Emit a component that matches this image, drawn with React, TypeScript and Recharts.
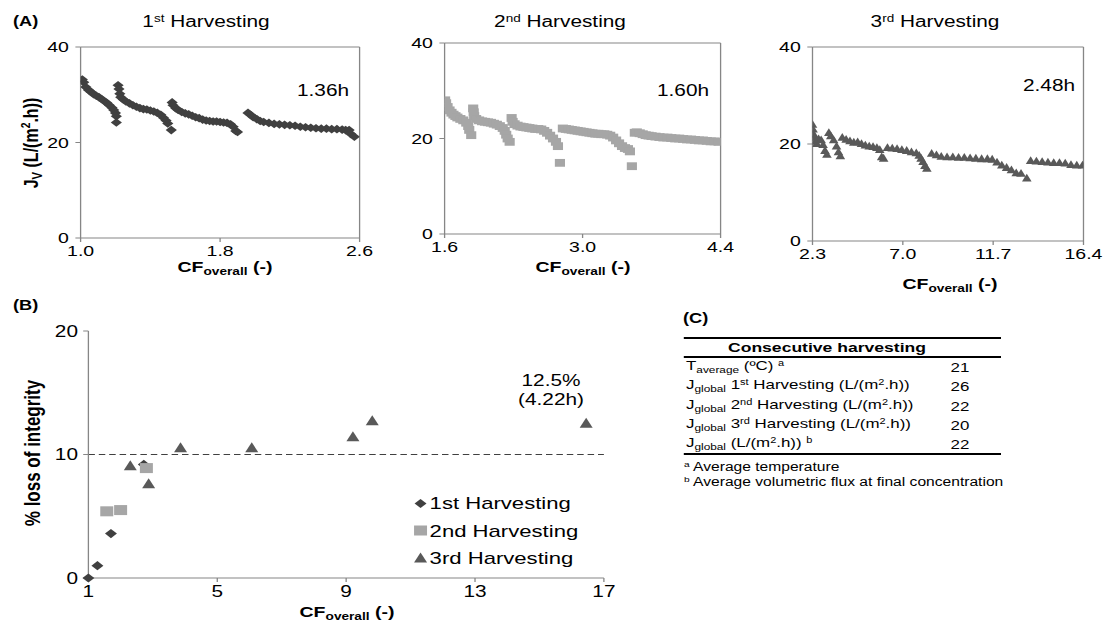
import React from 'react'
import { ScatterChart, Scatter, XAxis, YAxis, ReferenceLine } from 'recharts'

const FONT = '"Liberation Sans", Arial, Helvetica, sans-serif'
const AXIS_GREY = '#868686'
const DARK = '#404040'
const LIGHT = '#a6a6a6'
const MID = '#595959'

// the whole figure is drawn in a narrower frame and stretched horizontally
const K = 1.3
const sx = (v: number) => v / K

// (A) permeate flux Jv vs CF_overall, one series per harvesting cycle: [CF, Jv]
const harvest1Flux = [
  [1.01, 33.2], [1.018, 32.6], [1.03, 31.6], [1.045, 31.0], [1.06, 30.6], [1.075, 30.1], [1.09, 29.8],
  [1.105, 29.5], [1.12, 29.1], [1.135, 28.7], [1.15, 28.3], [1.165, 27.8], [1.18, 27.3], [1.19, 26.8],
  [1.2, 26.2], [1.205, 25.5], [1.205, 24.2],
  [1.215, 32.0], [1.22, 31.2], [1.225, 30.2], [1.23, 29.5], [1.245, 29.0], [1.26, 28.6], [1.28, 28.2],
  [1.3, 27.8], [1.32, 27.5], [1.34, 27.2], [1.36, 27.0], [1.38, 26.9], [1.4, 26.7], [1.42, 26.5],
  [1.44, 26.2], [1.46, 25.8], [1.475, 25.2], [1.49, 24.6], [1.5, 24.0], [1.52, 22.6],
  [1.525, 28.4], [1.53, 27.8], [1.545, 27.2], [1.56, 26.8], [1.58, 26.4], [1.6, 26.1], [1.62, 25.9],
  [1.64, 25.6], [1.66, 25.3], [1.68, 25.1], [1.7, 24.8], [1.72, 24.6], [1.74, 24.5], [1.76, 24.4],
  [1.78, 24.4], [1.8, 24.3], [1.82, 24.2], [1.84, 24.1], [1.86, 23.8], [1.875, 23.3], [1.89, 22.4],
  [1.9, 22.2],
  [1.96, 26.2], [1.975, 25.8], [1.99, 25.3], [2.01, 24.9], [2.03, 24.5], [2.05, 24.3], [2.08, 24.1],
  [2.11, 23.9], [2.14, 23.8], [2.17, 23.7], [2.2, 23.6], [2.23, 23.5], [2.26, 23.3], [2.29, 23.2],
  [2.32, 23.1], [2.35, 23.0], [2.38, 22.9], [2.41, 22.9], [2.44, 22.8], [2.47, 22.8], [2.5, 22.7],
  [2.52, 22.6], [2.54, 22.6], [2.55, 21.8], [2.57, 21.2],
]

const harvest2Flux = [
  [1.605, 28.0], [1.615, 27.4], [1.63, 26.6], [1.65, 25.9], [1.67, 25.4], [1.69, 25.0], [1.71, 24.7],
  [1.73, 24.4], [1.76, 24.1], [1.79, 23.8], [1.82, 23.3], [1.84, 22.6], [1.85, 21.8], [1.87, 20.7],
  [1.89, 26.3], [1.895, 25.5], [1.9, 24.7], [1.92, 24.1], [1.95, 23.8], [1.98, 23.6], [2.01, 23.5],
  [2.04, 23.4], [2.07, 23.3], [2.1, 23.1], [2.13, 22.9], [2.16, 22.6], [2.19, 22.2], [2.21, 21.6],
  [2.225, 20.8], [2.24, 20.0], [2.26, 19.3],
  [2.28, 24.3], [2.29, 23.5], [2.31, 23.0], [2.34, 22.7], [2.37, 22.5], [2.4, 22.4], [2.43, 22.3],
  [2.46, 22.2], [2.49, 22.1], [2.52, 22.0], [2.55, 22.0], [2.58, 21.9], [2.61, 21.6], [2.64, 21.2],
  [2.67, 20.6], [2.7, 20.0], [2.73, 19.3], [2.75, 18.4], [2.77, 14.9],
  [2.8, 22.1], [2.83, 22.0], [2.86, 21.9], [2.89, 21.8], [2.92, 21.7], [2.95, 21.6], [2.98, 21.5],
  [3.01, 21.4], [3.04, 21.3], [3.07, 21.2], [3.1, 21.1], [3.13, 21.0], [3.16, 21.0], [3.19, 20.9],
  [3.22, 20.9], [3.25, 20.8], [3.28, 20.6], [3.31, 20.2], [3.34, 19.6], [3.37, 19.0], [3.4, 18.4],
  [3.43, 18.0], [3.46, 17.8], [3.48, 17.3], [3.5, 14.2],
  [3.53, 21.2], [3.55, 21.3], [3.58, 21.1], [3.61, 20.9], [3.64, 20.7], [3.67, 20.6], [3.7, 20.5],
  [3.74, 20.4], [3.78, 20.3], [3.82, 20.2], [3.86, 20.2], [3.9, 20.1], [3.94, 20.0], [3.98, 20.0],
  [4.02, 19.9], [4.06, 19.8], [4.1, 19.8], [4.14, 19.7], [4.18, 19.6], [4.22, 19.6], [4.26, 19.5],
  [4.3, 19.4], [4.34, 19.4], [4.38, 19.3],
]

const harvest3Flux = [
  [2.3, 24.0], [2.33, 23.0], [2.36, 22.0], [2.4, 21.3], [2.45, 20.5], [2.52, 20.0], [2.62, 21.0],
  [2.75, 20.8], [2.85, 19.8], [2.95, 18.6], [3.05, 17.8], [3.15, 22.3], [3.25, 21.6], [3.4, 20.8],
  [3.55, 19.5], [3.65, 18.3], [3.75, 17.5], [3.85, 21.3], [4.05, 20.9], [4.25, 20.6], [4.45, 20.3],
  [4.65, 20.4], [4.85, 20.0], [5.05, 19.7], [5.25, 19.5], [5.45, 19.4], [5.65, 19.2], [5.8, 18.8],
  [5.9, 17.3], [6.0, 17.0],
  [6.2, 19.2], [6.45, 19.1], [6.7, 19.0], [6.95, 18.8], [7.2, 18.6], [7.45, 18.3], [7.7, 18.1],
  [7.85, 17.6], [7.95, 17.0], [8.05, 16.3], [8.15, 15.5], [8.25, 14.9],
  [8.5, 18.0], [8.75, 17.7], [9.0, 17.4], [9.3, 17.3], [9.6, 17.3], [9.9, 17.2], [10.2, 17.2],
  [10.5, 17.1], [10.8, 17.0], [11.1, 16.9], [11.4, 16.9], [11.65, 16.8], [11.9, 16.2], [12.15, 15.6],
  [12.4, 15.1], [12.65, 14.6], [12.9, 14.0], [13.15, 13.9], [13.45, 12.9],
  [13.65, 16.5], [13.95, 16.4], [14.25, 16.3], [14.55, 16.2], [14.85, 16.1], [15.15, 16.1],
  [15.45, 16.0], [15.75, 15.7], [16.05, 15.6], [16.35, 15.6],
]

// (B) % loss of integrity vs CF_overall: [CF, %]
const harvest1Loss = [[1.0, 0.0], [1.28, 1.0], [1.7, 3.6], [2.72, 9.2]]
const harvest2Loss = [[1.57, 5.4], [2.0, 5.5], [2.8, 8.9]]
const harvest3Loss = [[2.3, 9.05], [2.87, 7.6], [3.86, 10.5], [6.07, 10.5], [9.21, 11.4], [9.81, 12.7], [16.45, 12.5]]

// (C) table rows
const tableValues = [21, 26, 22, 20, 22]

const pts = (a: number[][]) => a.map(([x, y]) => ({ x, y }))

const diamond = (r: number, fill: string) => (p: any) => (
  <path d={`M${p.cx},${p.cy - r}L${p.cx + r},${p.cy}L${p.cx},${p.cy + r}L${p.cx - r},${p.cy}Z`} fill={fill} />
)
const square = (r: number, fill: string) => (p: any) => (
  <rect x={p.cx - r} y={p.cy - r} width={2 * r} height={2 * r} fill={fill} />
)
const triangle = (w: number, h: number, fill: string) => (p: any) => (
  <path d={`M${p.cx},${p.cy - h * 0.6}L${p.cx + w},${p.cy + h * 0.4}L${p.cx - w},${p.cy + h * 0.4}Z`} fill={fill} />
)

// absolute placement, x given in stretched (page) pixels
const abs = (left: number, top: number, extra: React.CSSProperties = {}): React.CSSProperties => ({
  position: 'absolute', left: sx(left), top, fontFamily: FONT, color: '#000', whiteSpace: 'nowrap', lineHeight: 1, ...extra,
})

const sub: React.CSSProperties = { fontSize: '0.7em', verticalAlign: '-0.3em' }
const sup: React.CSSProperties = { fontSize: '0.65em', verticalAlign: '0.55em' }

function CFLabel({ cx, cy }: { cx: number; cy: number }) {
  return (
    <div style={abs(cx, cy, { transform: 'translate(-50%, -50%)', fontWeight: 'bold', fontSize: 15 })}>
      CF<span style={sub}>overall</span> (-)
    </div>
  )
}

const tickStyle = (size: number) => ({ fill: '#000', fontSize: size, fontFamily: FONT })

function FluxPanel({ box, xDomain, xTicks, data, shape }: any) {
  const [x0, y0, x1, y1] = [sx(box[0]), box[1], sx(box[2]), box[3]]
  const yw = 35
  const xh = 30
  const m = 12
  const mr = 25
  return (
    <div style={{ position: 'absolute', left: x0 - yw, top: y0 - m }}>
      <ScatterChart width={x1 - x0 + yw + mr} height={y1 - y0 + m + xh} margin={{ top: m, right: mr, bottom: 0, left: 0 }}>
        <XAxis
          type="number" dataKey="x" domain={xDomain} ticks={xTicks} interval={0} allowDataOverflow
          tickFormatter={(v: number) => v.toFixed(1)} height={xh} stroke={AXIS_GREY} tickSize={4} tickMargin={3}
          tick={tickStyle(15)}
        />
        <YAxis
          type="number" dataKey="y" domain={[0, 40]} ticks={[0, 20, 40]} interval={0} width={yw}
          stroke={AXIS_GREY} tickSize={4} tickMargin={5} tick={tickStyle(15)}
        />
        <ReferenceLine y={40} stroke={AXIS_GREY} />
        <ReferenceLine x={xDomain[1]} stroke={AXIS_GREY} />
        <Scatter data={pts(data)} shape={shape} isAnimationActive={false} />
      </ScatterChart>
    </div>
  )
}

const lossMarkers = {
  h1: diamond(4.6, DARK),
  h2: square(5, LIGHT),
  h3: triangle(5, 10, MID),
}

function LossPanel() {
  const [x0, y0, x1, y1] = [sx(88), 331, sx(603.5), 578]
  const yw = 35
  const xh = 30
  const m = 12
  return (
    <div style={{ position: 'absolute', left: x0 - yw, top: y0 - m }}>
      <ScatterChart width={x1 - x0 + yw + m} height={y1 - y0 + m + xh} margin={{ top: m, right: m, bottom: 0, left: 0 }}>
        <XAxis
          type="number" dataKey="x" domain={[1, 17]} ticks={[1, 5, 9, 13, 17]} interval={0} height={xh}
          stroke={AXIS_GREY} tickSize={4} tickMargin={4} tick={tickStyle(16)}
        />
        <YAxis
          type="number" dataKey="y" domain={[0, 20]} ticks={[0, 10, 20]} interval={0} width={yw}
          stroke={AXIS_GREY} tickSize={4} tickMargin={4} tick={tickStyle(16)}
        />
        <ReferenceLine y={10} stroke={DARK} strokeDasharray="5 3" strokeWidth={1.2} />
        <Scatter name="1st Harvesting" data={pts(harvest1Loss)} shape={lossMarkers.h1} isAnimationActive={false} />
        <Scatter name="2nd Harvesting" data={pts(harvest2Loss)} shape={lossMarkers.h2} isAnimationActive={false} />
        <Scatter name="3rd Harvesting" data={pts(harvest3Loss)} shape={lossMarkers.h3} isAnimationActive={false} />
      </ScatterChart>
    </div>
  )
}

const legendItems = [
  { label: '1st Harvesting', shape: lossMarkers.h1 },
  { label: '2nd Harvesting', shape: lossMarkers.h2 },
  { label: '3rd Harvesting', shape: lossMarkers.h3 },
]

const tableRows = [
  <>T<span style={sub}>average</span> (ºC) <span style={sup}>a</span></>,
  <>J<span style={sub}>global</span> 1<span style={sup}>st</span> Harvesting (L/(m<span style={sup}>2</span>.h))</>,
  <>J<span style={sub}>global</span> 2<span style={sup}>nd</span> Harvesting (L/(m<span style={sup}>2</span>.h))</>,
  <>J<span style={sub}>global</span> 3<span style={sup}>rd</span> Harvesting (L/(m<span style={sup}>2</span>.h))</>,
  <>J<span style={sub}>global</span> (L/(m<span style={sup}>2</span>.h)) <span style={sup}>b</span></>,
]

const rule = (top: number): React.CSSProperties => ({
  position: 'absolute', left: sx(684), top, width: sx(1001) - sx(684), height: 2, background: '#000',
})

export default function App() {
  return (
    <div style={{ position: 'absolute', left: 0, top: 0, width: 1108, height: 625, background: '#fff', overflow: 'hidden' }}>
      <div style={{ position: 'absolute', left: 0, top: 0, width: sx(1108), height: 625, transform: `scaleX(${K})`, transformOrigin: '0 0' }}>
        {/* panel letters */}
        <div style={abs(13, 14, { fontWeight: 'bold', fontSize: 14 })}>(A)</div>
        <div style={abs(13, 298, { fontWeight: 'bold', fontSize: 14 })}>(B)</div>
        <div style={abs(683, 311, { fontWeight: 'bold', fontSize: 14 })}>(C)</div>

        {/* (A) flux panels */}
        <FluxPanel box={[81, 47, 360, 238]} xDomain={[1.0, 2.6]} xTicks={[1.0, 1.8, 2.6]} data={harvest1Flux} shape={diamond(4.3, DARK)} />
        <FluxPanel box={[445, 43, 721, 234]} xDomain={[1.6, 4.4]} xTicks={[1.6, 3.0, 4.4]} data={harvest2Flux} shape={square(3.9, LIGHT)} />
        <FluxPanel box={[812, 47, 1083, 241]} xDomain={[2.3, 16.4]} xTicks={[2.3, 7.0, 11.7, 16.4]} data={harvest3Flux} shape={triangle(3.7, 7.8, MID)} />

        <div style={abs(206, 22, { transform: 'translate(-50%, -50%)', fontSize: 16 })}>1<span style={sup}>st</span> Harvesting</div>
        <div style={abs(560, 22, { transform: 'translate(-50%, -50%)', fontSize: 16 })}>2<span style={sup}>nd</span> Harvesting</div>
        <div style={abs(935, 22, { transform: 'translate(-50%, -50%)', fontSize: 16 })}>3<span style={sup}>rd</span> Harvesting</div>

        <div style={abs(297, 83, { fontSize: 16 })}>1.36h</div>
        <div style={abs(657, 83, { fontSize: 16 })}>1.60h</div>
        <div style={abs(1023, 78, { fontSize: 16 })}>2.48h</div>

        <div style={abs(33, 143, { transform: 'translate(-50%, -50%) rotate(-90deg)', fontWeight: 'bold', fontSize: 16 })}>
          J<span style={sub}>V</span> (L/(m<span style={sup}>2</span>.h))
        </div>
        <CFLabel cx={225} cy={268} />
        <CFLabel cx={583} cy={268} />
        <CFLabel cx={950} cy={285} />

        {/* (B) loss of integrity */}
        <LossPanel />
        <div style={abs(32, 453, { transform: 'translate(-50%, -50%) rotate(-90deg)', fontWeight: 'bold', fontSize: 17 })}>
          % loss of integrity
        </div>
        <CFLabel cx={347} cy={613} />
        <div style={abs(551, 390, { transform: 'translate(-50%, -50%)', fontSize: 16, textAlign: 'center', lineHeight: '19px' })}>
          12.5%<br />(4.22h)
        </div>
        {legendItems.map((it, i) => (
          <div key={it.label} style={abs(414, 503 + i * 27.5, { transform: 'translateY(-50%)', fontSize: 17, display: 'flex', alignItems: 'center' })}>
            <svg width={11} height={14} style={{ marginRight: 1 }}>{it.shape({ cx: 5.5, cy: 7 })}</svg>
            {it.label}
          </div>
        ))}

        {/* (C) summary table */}
        <div style={rule(337)} />
        <div style={abs(827, 348, { transform: 'translate(-50%, -50%)', fontWeight: 'bold', fontSize: 13.5 })}>
          Consecutive harvesting
        </div>
        <div style={rule(356)} />
        {tableRows.map((row, i) => (
          <React.Fragment key={i}>
            <div style={abs(686, 367 + i * 19.3, { transform: 'translateY(-50%)', fontSize: 13 })}>{row}</div>
            <div style={abs(960, 367 + i * 19.3, { transform: 'translate(-50%, -50%)', fontSize: 13 })}>{tableValues[i]}</div>
          </React.Fragment>
        ))}
        <div style={rule(453)} />
        <div style={abs(684, 467, { transform: 'translateY(-50%)', fontSize: 12 })}><span style={sup}>a</span> Average temperature</div>
        <div style={abs(684, 482, { transform: 'translateY(-50%)', fontSize: 12 })}><span style={sup}>b</span> Average volumetric flux at final concentration</div>
      </div>
    </div>
  )
}
